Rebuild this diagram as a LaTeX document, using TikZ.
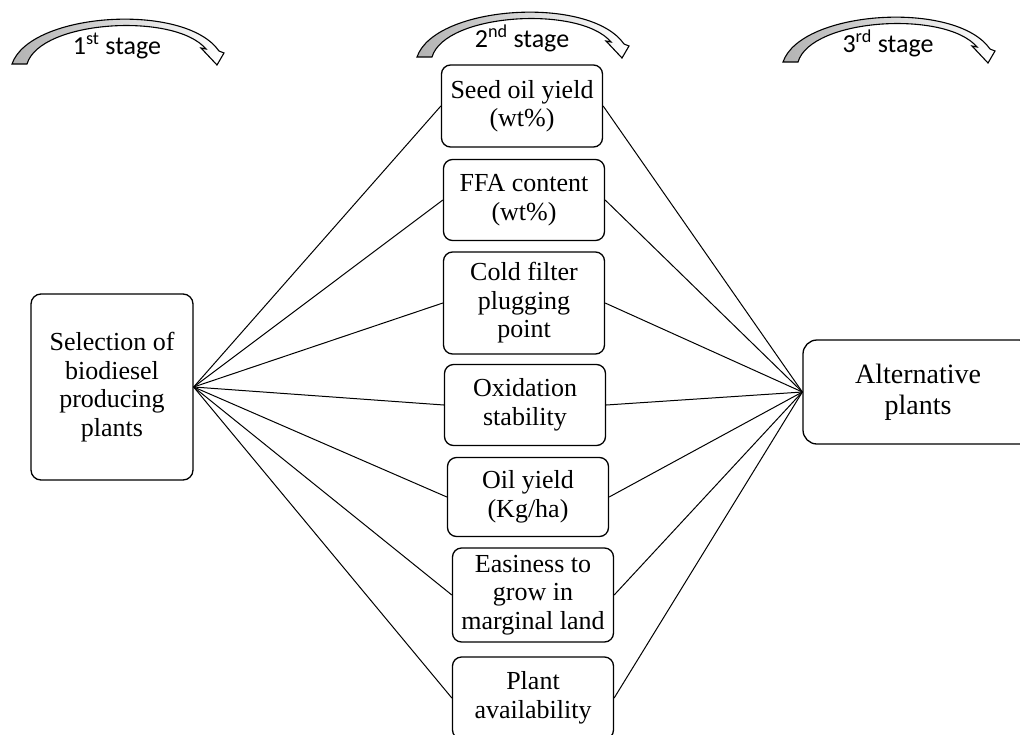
\documentclass[tikz,border=0pt]{standalone}
\usepackage{fontspec}
\setmainfont{Liberation Serif}
\newfontfamily\stagefont{Carlito}
\begin{document}
\begin{tikzpicture}[x=1pt,y=-1pt]
    \tikzstyle{rec} = [rectangle, rounded corners=9pt, draw, line width=1.3pt, align=center, inner sep=2pt, font=\fontsize{26}{28.5}\selectfont]
    \tikzstyle{crit} = [rec, minimum width=161pt]
    \tikzstyle{link} = [line width=1pt]
    \tikzstyle{stagearrow} = [draw, line width=1.1pt, left color=gray!60, right color=white]
    \useasboundingbox (0,0) rectangle (1020,734);
    \clip (0,0) rectangle (1020,734);
    % stages
    \foreach \dx/\dy/\idx/\ord in {0/0/1/st, 405/-7/2/nd, 771/-2/3/rd} {
      \begin{scope}[shift={(\dx,\dy)}]
        \path [stagearrow] (12,64) .. controls (30,12) and (185,2) .. (219,51) -- (224,53) -- (217,65) -- (201,48) -- (206,49) .. controls (175,12) and (40,20) .. (27,64) -- cycle;
        \node [font=\stagefont\fontsize{26}{28}\selectfont, anchor=base] (stage\idx) at (117,54) {\idx\textsuperscript{\ord}~stage};
      \end{scope}
    }
    \node [rec, minimum width=162pt, minimum height=186pt, rounded corners=10pt] (select) at (112,387) {Selection of\\biodiesel\\producing\\plants};
    \node [rec, minimum width=230pt, minimum height=104pt, rounded corners=14pt, font=\fontsize{28}{31}\selectfont] (alt) at (918,392) {Alternative\\plants};
    \node [crit, minimum height=82pt] (seed) at (522,106) {Seed oil yield\\(wt\%)};
    \node [crit, minimum height=81pt] (ffa) at (524,200) {FFA content\\(wt\%)};
    \node [crit, minimum height=102pt] (cfpp) at (524,303) {Cold filter\\plugging\\point};
    \node [crit, minimum height=81pt] (oxid) at (525,405) {Oxidation\\stability};
    \node [crit, minimum height=79pt] (oil) at (528,497) {Oil yield\\(Kg/ha)};
    \node [crit, minimum height=94pt] (grow) at (533,595) {Easiness to\\grow in\\marginal land};
    \node [crit, minimum height=82pt] (avail) at (533,698) {Plant\\availability};
    \foreach \c in {seed,ffa,cfpp,oxid,oil,grow,avail} {
      \draw [link] (select.east) -- (\c.west);
      \draw [link] (\c.east) -- (alt.west);
    }
\end{tikzpicture}
\end{document}
